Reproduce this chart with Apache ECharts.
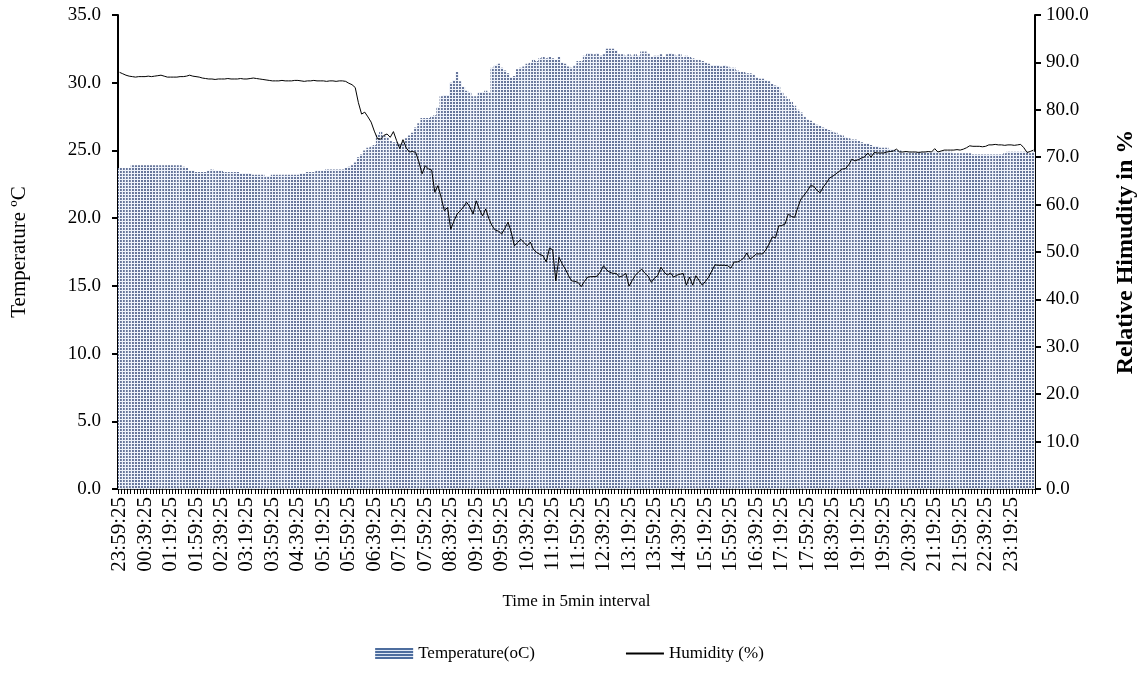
<!DOCTYPE html>
<html>
<head>
<meta charset="utf-8">
<script src="https://cdn.jsdelivr.net/npm/echarts@6/dist/echarts.min.js"></script>
<style>html,body{margin:0;padding:0;background:#fff;}#c{width:1139px;height:683px;}</style>
</head>
<body>
<div id="c"></div>
<script>
// Category labels: 5-minute readings starting 23:59:25
const startTime = [23, 59, 25];
const stepMinutes = 5;
const pointCount = 288;
const categories = [];
for (let k = 0; k < pointCount; k++) {
  const m = (startTime[0] * 60 + startTime[1] + k * stepMinutes) % 1440;
  const hh = String(Math.floor(m / 60)).padStart(2, '0');
  const mm = String(m % 60).padStart(2, '0');
  categories.push(hh + ':' + mm + ':' + String(startTime[2]).padStart(2, '0'));
}

const temperature = [
  23.7,23.7,23.7,23.7,23.9,23.9,23.9,23.9,23.9,23.9,
  23.9,23.9,23.9,23.9,23.9,23.9,23.9,23.9,23.9,23.9,
  23.8,23.7,23.5,23.5,23.4,23.4,23.4,23.4,23.5,23.6,
  23.5,23.5,23.5,23.4,23.4,23.4,23.4,23.4,23.3,23.3,
  23.3,23.3,23.2,23.2,23.2,23.2,23.1,23.1,23.2,23.2,
  23.2,23.2,23.2,23.2,23.2,23.2,23.2,23.3,23.3,23.4,
  23.4,23.4,23.5,23.5,23.5,23.6,23.6,23.6,23.6,23.6,
  23.6,23.7,23.8,23.9,24.1,24.5,24.7,25.0,25.2,25.3,
  25.4,26.2,26.4,26.1,26.0,25.7,25.6,25.6,25.5,25.6,
  25.9,26.1,26.3,26.7,27.0,27.4,27.4,27.4,27.5,27.6,
  28.2,29.0,29.1,29.1,30.0,30.2,30.8,30.1,29.7,29.4,
  29.3,29.0,29.0,29.3,29.3,29.4,29.3,31.1,31.3,31.4,
  31.1,30.9,30.7,30.4,30.5,31.0,31.1,31.2,31.4,31.5,
  31.7,31.6,31.8,31.9,31.8,31.9,31.8,31.7,31.9,31.5,
  31.4,31.2,31.1,31.3,31.6,31.6,32.0,32.2,32.2,32.1,
  32.2,32.0,32.1,32.5,32.5,32.5,32.4,32.1,32.1,32.0,
  32.1,32.0,32.1,32.0,32.3,32.3,32.2,31.9,32.0,32.0,
  32.1,31.9,32.1,32.2,32.1,32.0,32.1,31.9,32.0,31.9,
  31.8,31.7,31.7,31.6,31.5,31.4,31.3,31.3,31.3,31.2,
  31.3,31.2,31.1,31.1,30.9,30.8,30.8,30.7,30.7,30.6,
  30.4,30.3,30.3,30.2,30.1,29.9,29.8,29.7,29.3,29.0,
  28.8,28.6,28.3,28.0,27.8,27.5,27.3,27.2,27.0,26.9,
  26.8,26.7,26.6,26.5,26.4,26.3,26.2,26.1,26.0,25.9,
  25.8,25.8,25.7,25.6,25.5,25.5,25.4,25.3,25.3,25.2,
  25.2,25.2,25.1,25.1,25.0,25.0,24.9,24.9,24.9,24.9,
  24.9,24.9,24.9,24.9,24.9,24.9,24.9,24.9,24.9,24.9,
  24.9,24.9,24.8,24.8,24.8,24.8,24.8,24.8,24.7,24.7,
  24.7,24.7,24.7,24.7,24.7,24.7,24.7,24.7,24.8,24.9,
  24.9,24.9,24.9,24.9,24.9,24.9,24.8,24.9
];

const humidity = [
  87.9,87.6,87.3,87.1,87.0,86.9,87.0,87.0,87.0,87.1,
  87.0,87.1,87.2,87.3,87.1,86.9,86.9,86.9,86.9,87.0,
  87.0,87.1,87.3,87.1,87.0,86.9,86.7,86.6,86.5,86.5,
  86.4,86.5,86.5,86.5,86.6,86.5,86.5,86.5,86.6,86.5,
  86.5,86.6,86.7,86.6,86.5,86.4,86.3,86.2,86.1,86.1,
  86.1,86.2,86.1,86.1,86.1,86.2,86.2,86.1,86.0,86.1,
  86.1,86.2,86.1,86.1,86.1,86.0,86.1,86.1,86.0,86.1,
  86.1,86.0,85.6,85.3,84.7,81.5,79.1,79.5,78.5,77.4,
  75.5,73.9,73.8,74.6,74.9,74.2,75.4,73.5,71.8,73.7,
  72.0,71.1,71.2,71.0,69.0,66.5,68.2,67.5,67.3,62.6,
  64.0,61.5,58.7,59.4,54.8,56.5,58.0,58.7,59.5,60.5,
  59.5,58.0,60.8,59.0,57.6,59.1,57.0,55.5,54.6,54.4,
  53.8,55.0,56.3,54.2,51.3,52.0,52.7,52.0,51.3,52.1,
  50.5,49.9,49.5,49.2,47.9,50.8,50.5,43.9,48.9,47.5,
  46.4,45.0,43.9,43.8,43.6,42.7,43.8,44.7,44.8,44.8,
  44.9,45.8,47.1,46.2,45.7,45.5,45.5,44.7,45.0,45.5,
  42.8,44.0,45.1,45.8,46.4,45.5,44.9,43.6,44.5,45.0,
  46.8,45.8,45.1,45.6,44.7,45.1,45.3,45.5,43.0,44.7,
  43.0,45.0,44.0,43.0,43.8,44.7,46.0,47.3,47.2,47.2,
  47.2,47.1,46.6,47.9,47.9,48.2,48.7,49.8,48.5,49.0,
  49.6,49.6,49.6,50.5,51.7,53.2,53.0,55.5,55.6,55.9,
  58.0,57.5,57.3,59.4,61.2,62.0,62.9,64.0,63.9,63.0,
  62.5,63.7,64.6,65.6,66.0,66.5,67.0,67.5,67.6,68.4,
  69.6,69.2,69.5,69.8,70.1,70.9,70.0,71.0,70.9,70.9,
  70.9,71.1,71.2,71.3,71.7,71.1,71.1,71.2,71.1,71.1,
  71.1,71.0,71.1,71.1,71.2,71.1,71.8,71.1,71.3,71.5,
  71.5,71.5,71.5,71.6,71.5,71.7,72.0,72.4,72.3,72.3,
  72.3,72.2,72.3,72.6,72.6,72.7,72.6,72.6,72.5,72.6,
  72.6,72.5,72.6,72.7,72.0,71.0,71.2,71.5
];

const seriesNames = ['Temperature(oC)', 'Humidity (%)'];

// dotted fill pattern for the bars
const pat = document.createElement('canvas');
pat.width = 3; pat.height = 3;
const pc = pat.getContext('2d');
pc.fillStyle = '#eef2fa'; pc.fillRect(0, 0, 3, 3);
pc.fillStyle = '#66759a'; pc.fillRect(0, 0, 2, 2);

// striped legend icon pattern
const lp = document.createElement('canvas');
lp.width = 4; lp.height = 3;
const lc = lp.getContext('2d');
lc.fillStyle = '#dfe8f5'; lc.fillRect(0, 0, 4, 3);
lc.fillStyle = '#4d6d9e'; lc.fillRect(0, 0, 4, 2);

const font = 'Liberation Serif';
const chart = echarts.init(document.getElementById('c'), null, { renderer: 'canvas' });
chart.setOption({
  animation: false,
  backgroundColor: '#fff',
  textStyle: { fontFamily: font, color: '#000' },
  grid: { left: 118, right: 104, top: 15, bottom: 194, containLabel: false, outerBoundsMode: 'none' },
  legend: {
    bottom: 16,
    left: 'center',
    itemGap: 90,
    itemWidth: 38,
    itemHeight: 11,
    textStyle: { fontFamily: font, fontSize: 17, color: '#000' },
    data: [
      { name: seriesNames[0], icon: 'rect', itemStyle: { color: { image: lp, repeat: 'repeat' } } },
      { name: seriesNames[1], itemStyle: { opacity: 0 } }
    ]
  },
  xAxis: {
    type: 'category',
    data: categories,
    boundaryGap: true,
    name: 'Time in 5min interval',
    nameLocation: 'middle',
    nameGap: 104,
    nameTextStyle: { fontFamily: font, fontSize: 17, color: '#000' },
    axisLine: { lineStyle: { color: '#000', width: 1.5 } },
    axisTick: { show: true, interval: 0, length: 5, lineStyle: { color: '#000', width: 1 } },
    axisLabel: { interval: 7, rotate: 90, fontFamily: font, fontSize: 21, color: '#000', margin: 8 },
    splitLine: { show: false }
  },
  yAxis: [
    {
      type: 'value', min: 0, max: 35, interval: 5, position: 'left',
      name: 'Temperature ºC', nameLocation: 'middle', nameGap: 88,
      nameTextStyle: { fontFamily: font, fontSize: 21, color: '#000' },
      axisLine: { show: true, lineStyle: { color: '#000', width: 2 } },
      axisTick: { show: true, length: 6, lineStyle: { color: '#000', width: 2 } },
      axisLabel: { formatter: v => v.toFixed(1), fontFamily: font, fontSize: 19, color: '#000', margin: 17 },
      splitLine: { show: false }
    },
    {
      type: 'value', min: 0, max: 100, interval: 10, position: 'right',
      name: 'Relative Himudity in %', nameLocation: 'middle', nameGap: 79,
      nameTextStyle: { fontFamily: font, fontSize: 24, fontWeight: 'bold', color: '#000' },
      axisLine: { show: true, lineStyle: { color: '#000', width: 2 } },
      axisTick: { show: true, length: 6, lineStyle: { color: '#000', width: 2 } },
      axisLabel: { formatter: v => v.toFixed(1), fontFamily: font, fontSize: 19, color: '#000', margin: 11 },
      splitLine: { show: false }
    }
  ],
  series: [
    {
      name: seriesNames[0], type: 'bar', yAxisIndex: 0,
      data: temperature, barCategoryGap: '0%',
      itemStyle: { color: { image: pat, repeat: 'repeat' } },
      z: 1
    },
    {
      name: seriesNames[1], type: 'line', yAxisIndex: 1,
      data: humidity, symbol: 'none',
      lineStyle: { color: '#000', width: 1 },
      itemStyle: { color: '#000' },
      z: 5
    }
  ]
});
</script>
</body>
</html>
